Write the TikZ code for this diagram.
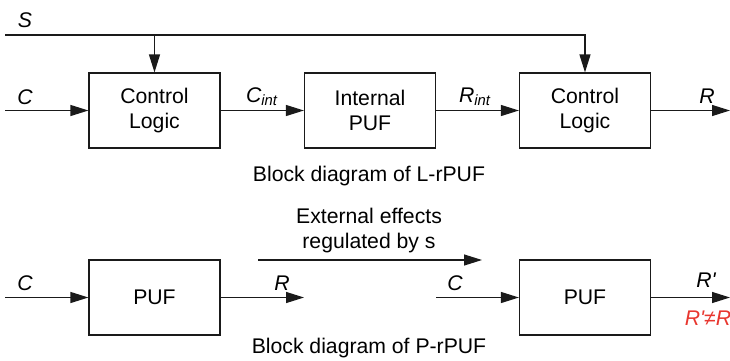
\documentclass[tikz,border=0pt]{standalone}
\usepackage{fontspec}
\setmainfont{Liberation Sans}
\usepackage{xcolor}
\usepackage{tikz}
\usetikzlibrary{arrows.meta,positioning,calc}
\definecolor{Ink}{HTML}{1A1A1A}
\definecolor{Alert}{HTML}{E8372F}

\begin{document}
\begin{tikzpicture}[
  x=0.5pt,y=-0.5pt,
  font=\fontsize{10.6}{12.5}\selectfont,
  block/.style={draw=Ink,line width=0.6pt,minimum width=65.5pt,minimum height=37.5pt,inner sep=0pt,align=center},
  arr/.style={draw=Ink,line width=0.6pt,-{Triangle[length=9pt,width=5.5pt]}},
  wire/.style={draw=Ink,line width=0.6pt},
  sig/.style={font=\fontsize{10.6}{12.5}\selectfont\itshape,inner sep=0pt}
]
\useasboundingbox (0,0) rectangle (730,360);
% L-rPUF
\node[block] (cl1) at (154.5,110.5) {Control\\Logic};
\node[block] (ipuf) at (370,110.5) {Internal\\PUF};
\node[block] (cl2) at (585,110.5) {Control\\Logic};
\coordinate (sIn) at (5,35);
\coordinate (cIn) at (5,110.5);
\coordinate (rOut) at (730,110.5);
\draw[wire] (sIn) -- (sIn -| cl1.north);
\draw[arr] (sIn -| cl1.north) -- (cl1.north);
\draw[arr] (sIn -| cl1.north) -| (cl2.north);
\draw[arr] (cIn) -- (cl1.west);
\draw[arr] (cl1.east) -- (ipuf.west);
\draw[arr] (ipuf.east) -- (cl2.west);
\draw[arr] (cl2.east) -- (rOut);
\node[sig] (sLab) at (25,20) {S};
\node[sig] (cLab) at (25,97) {C};
\node[sig] (ciLab) at (262,97) {C\textsubscript{int}};
\node[sig] (riLab) at (475,97) {R\textsubscript{int}};
\node[sig] (rLab) at (707,96) {R};
\node (capL) at (369,176) {Block diagram of L-rPUF};
% P-rPUF
\node[block] (pufA) at (154.5,297.5) {PUF};
\node[block] (pufB) at (585,297.5) {PUF};
\coordinate (cIn2) at (5,297.5);
\coordinate (rMid) at (304,297.5);
\coordinate (cMid) at (436,297.5);
\coordinate (rOut2) at (730,297.5);
\coordinate (extA) at (258,260);
\coordinate (extB) at (482,260);
\draw[arr] (cIn2) -- (pufA.west);
\draw[arr] (pufA.east) -- (rMid);
\draw[arr] (cMid) -- (pufB.west);
\draw[arr] (pufB.east) -- (rOut2);
\draw[arr] (extA) -- (extB);
\node[align=center] (extLab) at (369,230.5) {External effects\\regulated by s};
\node[sig] (cLab2) at (25,283) {C};
\node[sig] (rLab2) at (282,283) {R};
\node[sig] (cLab3) at (455,283) {C};
\node[sig] (rpLab) at (706,280) {R\textquotesingle};
\node[sig,text=Alert] (neqLab) at (708,318) {R\textquotesingle≠R};
\node (capP) at (369,348) {Block diagram of P-rPUF};
\end{tikzpicture}
\end{document}
